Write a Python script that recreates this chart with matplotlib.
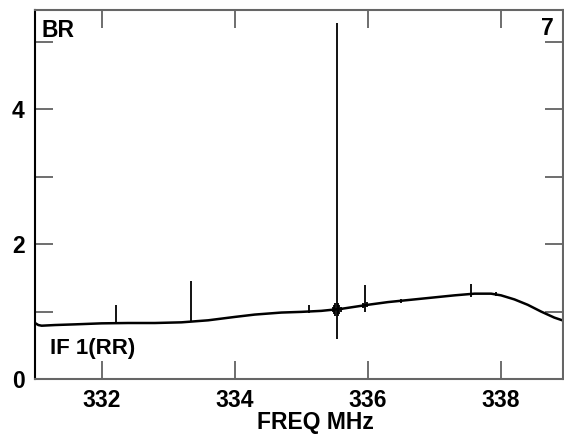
import matplotlib
matplotlib.use("Agg")
import matplotlib.pyplot as plt

plt.rcParams['font.family'] = ['Liberation Sans', 'DejaVu Sans']

# Baseline anchor points (MHz, amplitude)
base_freq = [331.0, 331.05, 331.1, 331.3, 331.6, 332.0, 332.4, 332.8, 333.2, 333.6,
             334.0, 334.3, 334.7, 335.0, 335.3, 335.6, 336.0, 336.3, 336.7,
             337.0, 337.3, 337.6, 337.85, 338.0, 338.2, 338.4, 338.6, 338.8, 338.95]
base_amp = [0.83, 0.80, 0.79, 0.80, 0.81, 0.825, 0.83, 0.83, 0.84, 0.87,
            0.92, 0.955, 0.985, 0.995, 1.01, 1.04, 1.10, 1.14, 1.18,
            1.21, 1.24, 1.265, 1.265, 1.24, 1.18, 1.10, 1.00, 0.91, 0.86]

# Spikes: frequency, top, bottom
spike_freq = [332.22, 333.35, 335.11, 335.53, 335.96, 336.49, 337.55, 337.93,
              335.45, 335.47, 335.49, 335.51, 335.55, 335.57, 335.59, 335.61,
              335.93, 335.99]
spike_top = [1.10, 1.46, 1.10, 5.27, 1.39, 1.18, 1.41, 1.29,
             1.045, 1.07, 1.09, 1.12, 1.12, 1.09, 1.07, 1.05,
             1.13, 1.14]
spike_bot = [0.82, 0.84, 0.98, 0.60, 1.00, 1.13, 1.22, 1.23,
             1.01, 0.99, 0.96, 0.93, 0.93, 0.96, 0.99, 1.02,
             1.05, 1.06]

x_ticks = [332, 334, 336, 338]
y_ticks = [0, 1, 2, 3, 4, 5]
y_labels = ['0', '', '2', '', '4', '']

fig = plt.figure(figsize=(5.64, 4.34), dpi=100)
ax = fig.add_axes([35/564, 55/434, 528/564, 369/434])

ax.plot(base_freq, base_amp, color='black', lw=1.8)
ax.vlines(spike_freq, spike_bot, spike_top, color='black', lw=1.3)

ax.set_xlim(331.0, 338.93)
ax.set_ylim(0, 5.47)
ax.minorticks_off()
ax.set_xticks(x_ticks)
ax.set_yticks(y_ticks)
ax.set_yticklabels(y_labels)
ax.tick_params(direction='in', length=13, width=1.2, color='#555555',
               top=True, right=True, labelsize=16.5, pad=7.5)
for lab in ax.get_xticklabels() + ax.get_yticklabels():
    lab.set_fontweight('bold')
for s in ['top', 'bottom', 'right']:
    ax.spines[s].set_color('#666666')
    ax.spines[s].set_linewidth(1.5)
ax.spines['left'].set_color('black')
ax.spines['left'].set_linewidth(1.5)

ax.text(0.012, 0.975, 'BR', transform=ax.transAxes, ha='left', va='top',
        fontsize=16.5, fontweight='bold')
ax.text(0.982, 0.98, '7', transform=ax.transAxes, ha='right', va='top',
        fontsize=16.5, fontweight='bold')
ax.text(0.028, 0.055, 'IF 1(RR)', transform=ax.transAxes, ha='left', va='bottom',
        fontsize=16, fontweight='bold')
fig.text(315/564, 0.0, 'FREQ MHz', ha='center', va='bottom', fontsize=16.5, fontweight='bold')

fig.savefig('out.png', dpi=100)
